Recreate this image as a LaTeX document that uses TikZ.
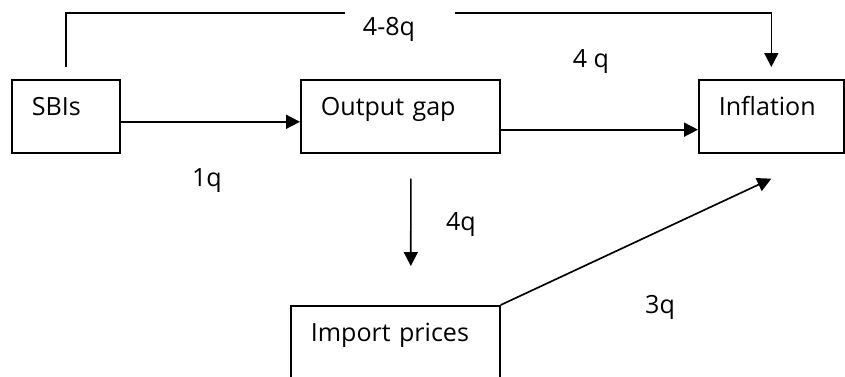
\documentclass[tikz,border=0pt]{standalone}
\usepackage{fontspec}
\setmainfont{Open Sans}
\usetikzlibrary{arrows.meta}
\begin{document}
\begin{tikzpicture}[x=0.75pt,y=-0.75pt,line width=1.25pt,
  font=\fontsize{18.8pt}{22pt}\selectfont,
  box/.style={draw,rectangle,anchor=north west,align=left,inner xsep=15pt,inner ysep=0pt,text height=27pt,text depth=27.75pt},
  lag/.style={inner sep=1pt},
  arr/.style={-{Triangle[length=10.5pt,width=10.5pt]}}]
\useasboundingbox (0,0) rectangle (845,376);
\clip (0,0) rectangle (845,376);
\node[box,text width=51pt] (sbis) at (11,79) {SBIs};
\node[box,text width=119.25pt] (og) at (300,79) {Output gap};
\node[box,text width=78.75pt] (infl) at (698,79) {Inflation};
\node[box,text width=126.75pt,text depth=30pt] (imp) at (290,305) {Import prices};
\coordinate (gapl) at (345,13);
\coordinate (gapr) at (455,13);
\node[lag] (l48) at (389,29) {4-8q};
\node[lag] (l4a) at (591,62) {4 q};
\node[lag] (l1) at (207,181) {1q};
\node[lag] (l4b) at (461,225) {4q};
\node[lag] (l3) at (660,307) {3q};
\draw ([yshift=9pt]sbis.north) |- (gapl);
\draw[arr] (gapr) -| ([yshift=9pt]infl.north);
\draw[arr] ([yshift=-4.1pt]sbis.east) -- ([yshift=-4.1pt]og.west);
\draw[arr] ([yshift=-10pt]og.east) -- ([yshift=-10pt]infl.west);
\draw[arr] ([xshift=7.9pt,yshift=-18.75pt]og.south) -- ([xshift=11.6pt,yshift=29.25pt]imp.north);
\draw[arr] (imp.north east) -- ([yshift=-18.75pt]infl.south);
\end{tikzpicture}
\end{document}
